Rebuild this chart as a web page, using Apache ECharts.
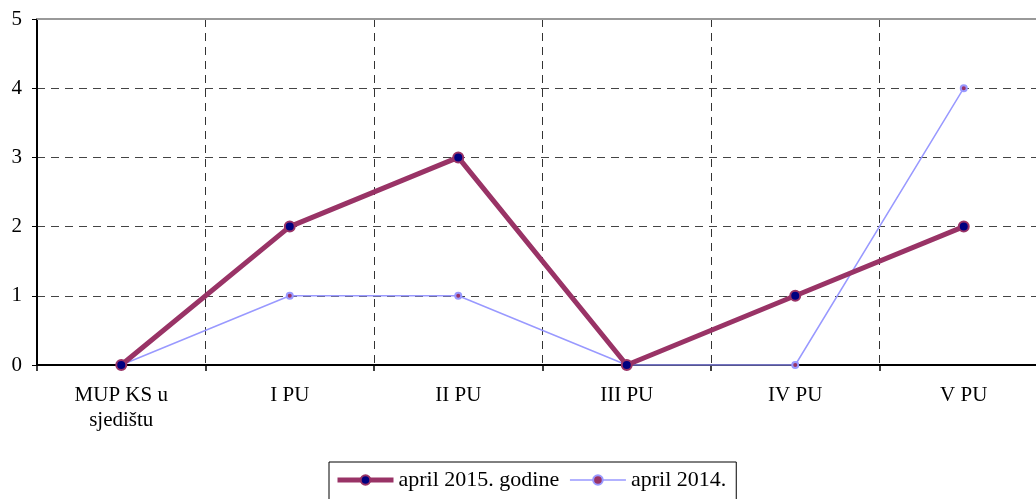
<!DOCTYPE html>
<html>
<head>
<meta charset="utf-8">
<script src="https://cdn.jsdelivr.net/npm/echarts@6/dist/echarts.min.js"></script>
<style>
  html, body { margin: 0; padding: 0; background: #fff; }
  #chart { width: 1036px; height: 499px; }
</style>
</head>
<body>
<div id="chart"></div>
<script>
var categories = ['MUP KS u\nsjedištu', 'I PU', 'II PU', 'III PU', 'IV PU', 'V PU'];
var april2015 = [0, 2, 3, 0, 1, 2];
var april2014 = [0, 1, 1, 0, 0, 4];
var seriesNames = ['april 2015. godine', 'april 2014.'];

var font = 'Liberation Serif';

var myChart = echarts.init(document.getElementById('chart'));

var option = {
  animation: false,
  grid: {
    left: 37,
    right: -12,
    top: 19,
    bottom: 134,
    outerBoundsMode: 'none'
  },
  legend: {
    left: 329,
    top: 462,
    padding: [7, 10, 12, 6],
    itemGap: 10,
    itemWidth: 56,
    itemHeight: 12,
    borderColor: '#000',
    borderWidth: 1,
    textStyle: { fontFamily: font, fontSize: 22, color: '#000' },
    data: [
      { name: seriesNames[0], lineStyle: { width: 5 } },
      { name: seriesNames[1], lineStyle: { width: 1.5 } }
    ]
  },
  xAxis: [{
    type: 'category',
    data: categories,
    boundaryGap: true,
    axisLine: { lineStyle: { color: '#000', width: 2 } },
    axisTick: { show: true, length: 6, lineStyle: { color: '#000', width: 1.5 } },
    axisLabel: { fontFamily: font, fontSize: 21, color: '#000', margin: 18, lineHeight: 25 },
    splitLine: { show: true, lineStyle: { color: '#333', type: [8, 6], width: 1 } }
  }, {
    type: 'category',
    data: categories,
    position: 'top',
    axisLine: { lineStyle: { color: '#999', width: 2 } },
    axisTick: { show: false },
    axisLabel: { show: false },
    splitLine: { show: false }
  }],
  yAxis: {
    type: 'value',
    min: 0,
    max: 5,
    interval: 1,
    axisLine: { show: true, lineStyle: { color: '#000', width: 2 } },
    axisTick: { show: true, length: 5, lineStyle: { color: '#000' } },
    axisLabel: { fontFamily: font, fontSize: 21, color: '#000', margin: 15 },
    splitLine: { show: true, lineStyle: { color: '#444', type: [8, 6], width: 1 } }
  },
  series: [{
    name: seriesNames[1],
    type: 'line',
    data: april2014,
    symbol: 'circle',
    symbolSize: 6,
    lineStyle: { color: '#9999FF', width: 1.5 },
    itemStyle: { color: '#993366', borderColor: '#9999FF', borderWidth: 2 },
    z: 2
  }, {
    name: seriesNames[0],
    type: 'line',
    data: april2015,
    symbol: 'circle',
    symbolSize: 10,
    lineStyle: { color: '#993366', width: 5 },
    itemStyle: { color: '#000080', borderColor: '#993366', borderWidth: 2 },
    z: 3
  }]
};

myChart.setOption(option);
</script>
</body>
</html>
